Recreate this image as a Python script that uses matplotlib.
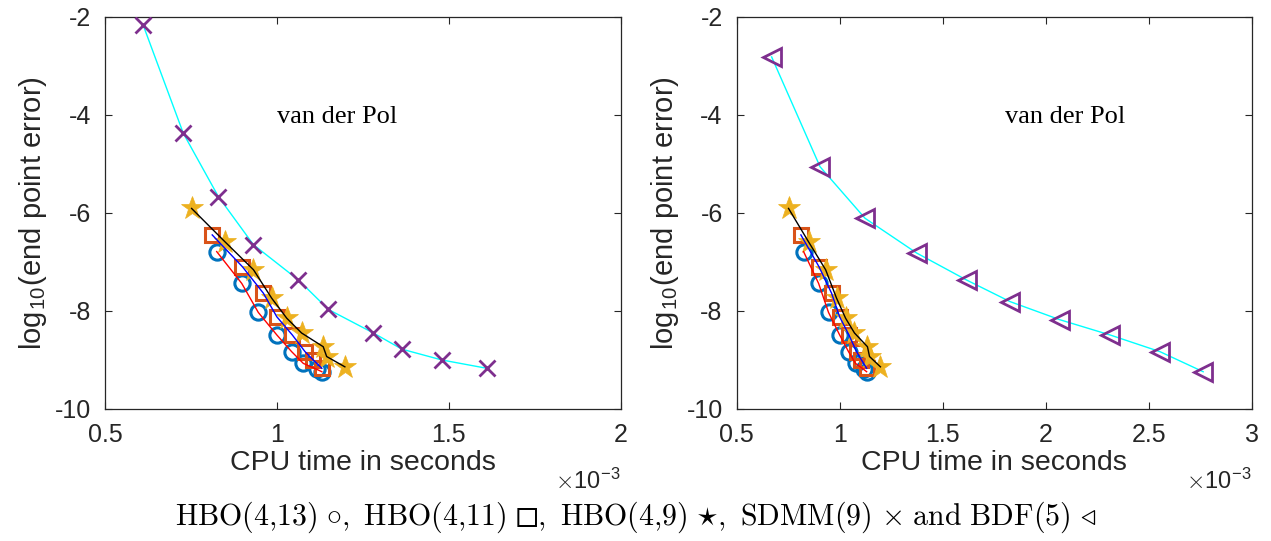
import matplotlib
matplotlib.use("Agg")
import matplotlib.pyplot as plt

# CPU times are in units of 1e-3 s, errors are log10 values
hbo13_t = [0.825, 0.898, 0.946, 1.000, 1.043, 1.077, 1.116, 1.131]
hbo13_e = [-6.79, -7.44, -8.03, -8.49, -8.83, -9.07, -9.19, -9.24]

hbo11_t = [0.812, 0.900, 0.961, 1.000, 1.045, 1.082, 1.106, 1.131]
hbo11_e = [-6.45, -7.10, -7.64, -8.12, -8.49, -8.83, -9.00, -9.17]

hbo9_t = [0.752, 0.849, 0.932, 0.985, 1.029, 1.072, 1.135, 1.145, 1.198]
hbo9_e = [-5.91, -6.59, -7.16, -7.74, -8.15, -8.45, -8.73, -8.93, -9.14]

sdmm_t = [0.611, 0.728, 0.830, 0.932, 1.063, 1.150, 1.281, 1.364, 1.480, 1.611]
sdmm_e = [-2.17, -4.38, -5.67, -6.65, -7.37, -7.97, -8.45, -8.78, -9.00, -9.17]

bdf_t = [0.670, 0.905, 1.123, 1.374, 1.616, 1.827, 2.069, 2.312, 2.554, 2.764]
bdf_e = [-2.82, -5.06, -6.11, -6.82, -7.37, -7.81, -8.18, -8.49, -8.83, -9.24]

left_xticks = [0.5, 1, 1.5, 2]
left_xlabels = ["0.5", "1", "1.5", "2"]
right_xticks = [0.5, 1, 1.5, 2, 2.5, 3]
right_xlabels = ["0.5", "1", "1.5", "2", "2.5", "3"]
yticks = [-10, -8, -6, -4, -2]
ylabels = ["-10", "-8", "-6", "-4", "-2"]

plt.rcParams["font.family"] = ["Liberation Sans", "DejaVu Sans"]
plt.rcParams["mathtext.fontset"] = "cm"

blue = "#0072BD"
orange = "#D95319"
yellow = "#EDB120"
purple = "#7E2F8E"
axcol = "#262626"

fig = plt.figure(figsize=(12.71, 5.41), dpi=100)
W, H = 1271, 541
bottom = 1 - 409 / H
height = (409 - 16.7) / H
ax1 = fig.add_axes([105 / W, bottom, (620.5 - 105) / W, height])
ax2 = fig.add_axes([736.6 / W, bottom, (1251.8 - 736.6) / W, height])


def draw_panel(ax, ot, oe, mk, ms, xmax, xticks, xlabels, label_x):
    # other method (SDMM or BDF) with cyan line
    ax.plot(ot, oe, color="cyan", lw=1.0, zorder=2)
    ax.plot(ot, oe, ls="none", marker=mk, ms=ms, mfc="none", mec=purple, mew=2, zorder=3)
    # HBO markers
    ax.plot(hbo13_t, hbo13_e, ls="none", marker="o", ms=11, mfc="none", mec=blue, mew=2.2, zorder=3)
    ax.plot(hbo11_t, hbo11_e, ls="none", marker="s", ms=10, mfc="none", mec=orange, mew=2.2, zorder=4)
    ax.plot(hbo9_t, hbo9_e, ls="none", marker="*", ms=17, mfc=yellow, mec=yellow, mew=0.5, zorder=5)
    # lines on top
    ax.plot(hbo13_t, hbo13_e, color="red", lw=1.0, zorder=6)
    ax.plot(hbo11_t, hbo11_e, color="blue", lw=1.0, zorder=6)
    ax.plot(hbo9_t, hbo9_e, color="black", lw=1.0, zorder=6)

    ax.set_xlim(0.5, xmax)
    ax.set_ylim(-10, -2)
    ax.set_xticks(xticks)
    ax.set_xticklabels(xlabels)
    ax.set_yticks(yticks)
    ax.set_yticklabels(ylabels)
    ax.tick_params(direction="in", length=5, width=0.8, colors=axcol, labelsize=18,
                   top=True, right=True, pad=10)
    for s in ax.spines.values():
        s.set_color(axcol)
        s.set_linewidth(0.9)
    ax.set_xlabel("CPU time in seconds", fontsize=20.5, color=axcol, labelpad=2)
    ax.set_ylabel(r"log$_{\mathregular{10}}$(end point error)", fontsize=21, color=axcol, labelpad=4)
    ax.text(label_x, -4.05, "van der Pol", family="Liberation Serif",
            fontsize=19, va="center", ha="left")
    ax.text(1.0, -0.185, r"$\times$10$^{\mathregular{-3}}$", transform=ax.transAxes, ha="right",
            va="center", fontsize=17, color=axcol)


draw_panel(ax1, sdmm_t, sdmm_e, "x", 11, 2, left_xticks, left_xlabels, 1.0)
draw_panel(ax2, bdf_t, bdf_e, "<", 13, 3, right_xticks, right_xlabels, 1.8)

fig.text(0.5, 1 - 517 / H,
         r"$\mathrm{HBO}(4{,}13)\ {\circ},\ \mathrm{HBO}(4{,}11)\ ◻,\ \mathrm{HBO}(4{,}9)\ {\star},"
         r"\ \mathrm{SDMM}(9)\ {\times}\ \mathrm{and}\ \mathrm{BDF}(5)\ {\triangleleft}$",
         ha="center", va="center", fontsize=21.5)

fig.savefig("out.png", dpi=100)
